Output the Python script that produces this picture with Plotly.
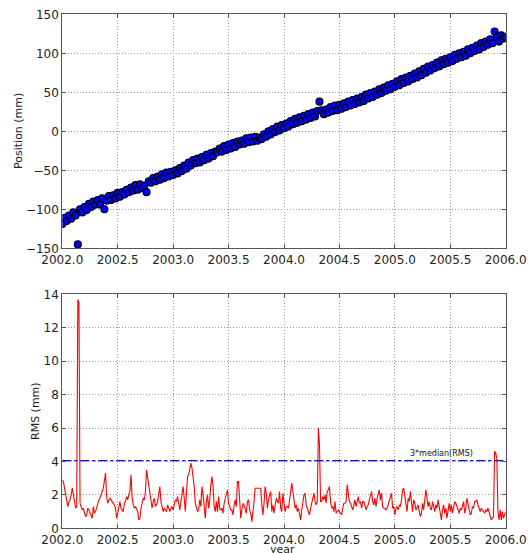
import numpy as np
import plotly.graph_objects as go

# ---------------- data ----------------
# position samples every 0.02 yr from 2002.00 to 2006.00
pos_years = np.round(2002.0 + 0.02 * np.arange(201), 2)
position_mm = [
    -119, -111, -115, -108, -112, -104, -108, -145, -100, -104,
    -97, -101, -93, -97, -90, -94, -88, -94, -86, -100,
    -89, -83, -88, -82, -86, -79, -84, -78, -81, -75,
    -78, -72, -76, -69, -75, -68, -73, -70, -78, -64,
    -66, -60, -64, -58, -62, -55, -60, -53, -58, -52,
    -56, -50, -54, -47, -51, -44, -48, -40, -44, -37,
    -41, -35, -40, -33, -37, -30, -35, -28, -32, -26,
    -27, -22, -26, -19, -24, -17, -22, -15, -20, -13,
    -17, -12, -16, -9, -14, -8, -13, -7, -12, -8,
    -10, -4, -7, 0, -4, 3, -1, 6, 1, 8,
    4, 10, 6, 13, 9, 16, 11, 18, 13, 20,
    15, 22, 17, 24, 19, 26, 38, 27, 22, 28,
    24, 31, 26, 33, 27, 34, 29, 36, 31, 38,
    33, 40, 35, 42, 37, 44, 39, 47, 42, 49,
    44, 51, 47, 54, 49, 56, 52, 59, 54, 61,
    57, 64, 59, 67, 62, 69, 64, 71, 67, 74,
    69, 77, 72, 80, 75, 83, 78, 85, 81, 88,
    83, 91, 86, 93, 88, 95, 90, 98, 93, 100,
    95, 102, 97, 105, 100, 107, 103, 110, 105, 113,
    108, 115, 111, 118, 113, 128, 121, 115, 123, 119,
    121,
]

# RMS samples every 0.01 yr from 2002.00 to 2006.00
rms_years = np.round(2002.0 + 0.01 * np.arange(401), 2)
rms_mm = [
    2.9, 2.8, 2.4, 2.0, 1.5, 1.3, 1.6, 1.7, 2.0, 2.4,
    2.0, 1.5, 1.2, 1.3, 13.7, 13.5, 1.5, 1.3, 1.1, 1.2,
    1.0, 0.7, 0.8, 1.2, 1.1, 0.9, 0.7, 0.6, 1.3, 0.9,
    1.0, 1.3, 1.5, 1.7, 1.8, 2.1, 2.2, 2.4, 2.9, 3.3,
    1.9, 1.5, 1.7, 1.8, 1.7, 1.6, 1.5, 1.4, 1.2, 0.6,
    0.9, 1.4, 1.6, 1.2, 1.1, 1.0, 1.5, 1.6, 1.9, 1.7,
    2.0, 2.2, 3.2, 1.8, 1.4, 1.2, 1.3, 1.1, 1.0, 0.5,
    0.6, 1.2, 1.6, 1.8, 1.7, 2.2, 3.5, 3.0, 2.6, 2.0,
    1.6, 1.2, 1.6, 1.8, 1.3, 1.4, 1.6, 2.2, 2.5, 1.6,
    1.3, 1.0, 1.2, 1.1, 1.0, 1.4, 1.2, 1.0, 1.2, 1.3,
    1.1, 1.4, 1.7, 1.6, 1.9, 1.5, 1.1, 1.6, 2.0, 2.5,
    1.8, 1.0, 2.1, 3.1, 3.2, 3.6, 3.9, 3.6, 3.1, 2.5,
    1.5, 1.2, 1.0, 1.1, 1.7, 1.3, 2.5, 2.0, 1.1, 0.6,
    1.6, 2.0, 1.2, 1.7, 2.6, 3.1, 2.5, 1.3, 1.0, 1.6,
    1.0, 1.9, 1.2, 1.1, 1.2, 0.9, 1.5, 1.8, 2.2, 2.3,
    1.5, 1.3, 1.1, 1.1, 0.8, 1.4, 1.7, 1.3, 2.8, 2.8,
    1.6, 0.6, 1.1, 1.5, 1.4, 1.2, 0.9, 1.6, 1.7, 1.1,
    0.9, 0.4, 1.3, 1.6, 2.4, 2.4, 2.4, 2.4, 2.4, 2.4,
    1.4, 0.8, 1.5, 2.5, 2.1, 1.2, 1.7, 1.9, 2.2, 1.0,
    1.4, 0.9, 1.4, 1.8, 1.6, 1.5, 2.2, 1.2, 1.0, 2.1,
    1.5, 1.0, 1.3, 1.3, 1.2, 1.8, 2.2, 2.7, 2.2, 1.6,
    1.2, 1.4, 1.0, 1.2, 0.8, 0.5, 1.1, 1.6, 2.0, 2.1,
    1.4, 1.2, 1.0, 0.8, 1.2, 1.5, 1.7, 2.1, 1.6, 1.4,
    1.6, 6.0, 5.0, 1.6, 1.6, 1.9, 1.7, 2.0, 1.5, 2.2,
    2.3, 2.5, 1.6, 1.2, 1.3, 1.0, 1.6, 0.9, 1.0, 1.1,
    1.0, 0.9, 0.8, 1.2, 1.5, 1.5, 1.6, 2.6, 2.2, 1.6,
    1.5, 1.3, 1.1, 1.4, 1.7, 1.3, 1.6, 1.9, 1.5, 1.6,
    1.2, 1.6, 1.6, 1.3, 1.1, 1.3, 1.4, 1.7, 2.0, 2.2,
    1.6, 1.4, 1.8, 1.3, 1.8, 2.0, 2.3, 1.7, 2.1, 1.3,
    1.2, 1.2, 1.1, 1.2, 1.4, 1.6, 1.9, 2.1, 1.2, 1.3,
    0.8, 1.2, 1.3, 1.1, 1.4, 1.3, 1.7, 2.3, 2.4, 1.9,
    1.4, 1.0, 1.8, 1.6, 2.2, 1.3, 1.0, 1.7, 1.5, 1.1,
    1.3, 1.4, 1.0, 0.7, 0.9, 1.5, 1.1, 1.7, 2.3, 1.8,
    1.3, 1.6, 1.2, 1.1, 1.6, 1.3, 1.0, 1.4, 1.2, 1.7,
    1.2, 0.9, 0.5, 1.1, 1.4, 0.9, 1.2, 0.6, 1.1, 1.5,
    1.0, 1.4, 0.9, 1.2, 1.6, 1.5, 1.3, 1.0, 0.9, 1.2,
    1.1, 1.3, 1.6, 0.9, 1.2, 1.8, 1.4, 1.1, 0.8, 0.9,
    1.3, 1.2, 1.6, 1.6, 1.7, 1.4, 1.2, 1.0, 1.2, 1.1,
    1.0, 0.9, 1.1, 1.0, 1.2, 1.0, 0.7, 0.5, 0.6, 0.7,
    4.6, 4.5, 4.2, 1.0, 0.5, 1.1, 0.5, 1.0, 0.6, 0.9,
    1.0,
]

threshold_years = [2002.0, 2006.0]
threshold_value = 4.05
threshold_label = "3*median(RMS)"

x_ticks = [2002.0, 2002.5, 2003.0, 2003.5, 2004.0, 2004.5, 2005.0, 2005.5, 2006.0]

# ---------------- figure ----------------
W, H = 530, 553
xdom = [62.3 / W, 505.7 / W]
top_dom = [(H - 248.3) / H, (H - 14.3) / H]
bot_dom = [(H - 528.3) / H, (H - 294.3) / H]

fig = go.Figure()

fig.add_trace(go.Scatter(
    x=pos_years, y=position_mm, mode="markers",
    marker=dict(color="#0000ff", size=7, line=dict(color="black", width=1.1)),
    xaxis="x", yaxis="y", showlegend=False,
))

fig.add_trace(go.Scatter(
    x=rms_years, y=rms_mm, mode="lines",
    line=dict(color="#ff0000", width=1.1),
    xaxis="x2", yaxis="y2", showlegend=False,
))

fig.add_trace(go.Scatter(
    x=threshold_years, y=[threshold_value, threshold_value], mode="lines",
    line=dict(color="#0000ff", width=1.3, dash="dashdot"),
    xaxis="x2", yaxis="y2", showlegend=False,
))

font_main = dict(family="DejaVu Sans", size=12, color="#222222")
axis_common = dict(
    automargin=False,
    showline=True, linecolor="#555555", linewidth=1, mirror="ticks",
    ticks="inside", ticklen=4, tickcolor="#555555",
    showgrid=True, gridcolor="#9a9a9a", griddash="1px,2px", gridwidth=1,
    zeroline=False, tickfont=font_main,
)

label_font = dict(family="DejaVu Sans", size=11, color="#222222")

fig.update_layout(
    width=W, height=H,
    margin=dict(l=0, r=0, t=0, b=0, autoexpand=False),
    paper_bgcolor="white", plot_bgcolor="white",
    font=font_main,
    xaxis=dict(domain=xdom, anchor="y", range=[2002.0, 2006.0],
               tickvals=x_ticks, tickformat=".1f", **axis_common),
    yaxis=dict(domain=top_dom, anchor="x", range=[-150, 150],
               tickvals=[-150, -100, -50, 0, 50, 100, 150], **axis_common),
    xaxis2=dict(domain=xdom, anchor="y2", range=[2002.0, 2006.0],
                tickvals=x_ticks, tickformat=".1f", **axis_common),
    yaxis2=dict(domain=bot_dom, anchor="x2", range=[0, 14],
                tickvals=[0, 2, 4, 6, 8, 10, 12, 14], **axis_common),
    annotations=[
        dict(text="Position (mm)", x=18 / W, y=1 - 131 / H, xref="paper", yref="paper",
             xanchor="center", yanchor="middle",
             showarrow=False, textangle=-90, font=label_font),
        dict(text="RMS (mm)", x=35 / W, y=1 - 411 / H, xref="paper", yref="paper",
             xanchor="center", yanchor="middle",
             showarrow=False, textangle=-90, font=label_font),
        dict(text="year", x=282 / W, y=1 - 549 / H, xref="paper", yref="paper",
             xanchor="center", yanchor="middle",
             showarrow=False, font=label_font),
        dict(text=threshold_label, x=2005.42, y=4.5, xref="x2", yref="y2",
             xanchor="center", yanchor="middle",
             showarrow=False, font=dict(family="DejaVu Sans", size=8, color="#111111")),
    ],
)

fig.write_html(
    "out.html",
    config={"displayModeBar": False},
    post_script="document.body.style.margin='0px';document.body.style.overflow='hidden';",
)
